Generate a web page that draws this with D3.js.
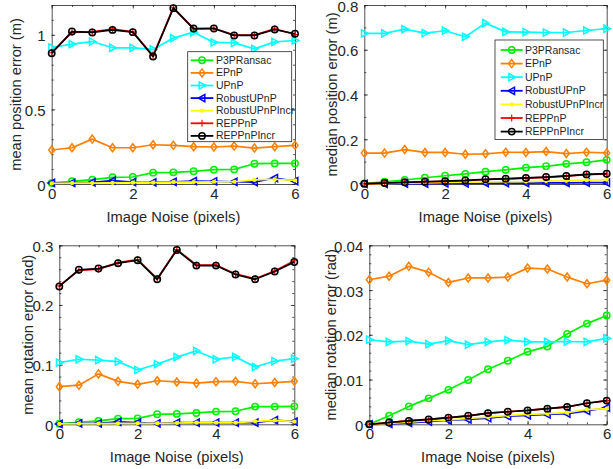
<!DOCTYPE html>
<html><head><meta charset="utf-8">
<script src="https://cdn.jsdelivr.net/npm/d3@7/dist/d3.min.js"></script>
<style>
body{margin:0;background:#fff}
text{font-family:"Liberation Sans",Arial,Helvetica,sans-serif;fill:#262626}
</style>
</head><body>
<svg id="c" width="613" height="469"></svg>
<script>
// ---------- DATA ----------
const noise = [0,0.5,1,1.5,2,2.5,3,3.5,4,4.5,5,5.5,6];
const methods = ["P3PRansac","EPnP","UPnP","RobustUPnP","RobustUPnPIncr","REPPnP","REPPnPIncr"];
const xTicks = [0,2,4,6];

// values in method order
const meanPosition = [
  [0.007,0.018,0.029,0.045,0.047,0.076,0.078,0.085,0.096,0.098,0.136,0.138,0.138],
  [0.228,0.243,0.301,0.243,0.243,0.263,0.259,0.250,0.248,0.254,0.241,0.250,0.259],
  [0.915,0.938,0.955,0.913,0.913,0.902,0.978,1.018,0.949,0.946,0.906,0.953,0.962],
  [0.007,0.008,0.011,0.022,0.013,0.011,0.015,0.020,0.018,0.015,0.013,0.040,0.020],
  [0.004,0.006,0.006,0.008,0.009,0.009,0.013,0.013,0.015,0.015,0.027,0.032,0.024],
  [0.880,1.018,1.020,1.038,1.020,0.860,1.182,1.040,1.044,0.998,0.998,1.040,1.002],
  [0.877,1.022,1.016,1.033,1.018,0.855,1.179,1.042,1.042,0.996,0.996,1.036,1.007]
];
const medianPosition = [
  [0.0015,0.010,0.018,0.028,0.037,0.045,0.055,0.063,0.073,0.079,0.090,0.097,0.108],
  [0.138,0.138,0.154,0.141,0.141,0.133,0.135,0.142,0.141,0.145,0.136,0.142,0.139],
  [0.673,0.673,0.692,0.674,0.685,0.658,0.719,0.680,0.679,0.677,0.677,0.686,0.694],
  [0.001,0.001,0.002,0.002,0.003,0.003,0.004,0.004,0.004,0.005,0.005,0.006,0.006],
  [0.001,0.002,0.004,0.005,0.007,0.008,0.009,0.010,0.011,0.013,0.014,0.017,0.019],
  [0.001,0.004,0.007,0.010,0.012,0.015,0.020,0.023,0.026,0.030,0.035,0.042,0.045],
  [0.0015,0.0045,0.0075,0.010,0.013,0.016,0.021,0.024,0.027,0.031,0.036,0.043,0.046]
];
const meanRotation = [
  [0.001,0.0034,0.0056,0.0095,0.010,0.0168,0.0174,0.019,0.0213,0.0218,0.0297,0.0297,0.030],
  [0.063,0.0655,0.0845,0.072,0.067,0.073,0.071,0.069,0.0715,0.072,0.068,0.070,0.072],
  [0.1035,0.109,0.1075,0.105,0.091,0.101,0.1125,0.123,0.109,0.113,0.096,0.106,0.110],
  [0.0006,0.0017,0.0017,0.004,0.0028,0.0017,0.0028,0.0028,0.0028,0.0028,0.0028,0.007,0.0045],
  [0.0006,0.0011,0.0011,0.0017,0.0017,0.0017,0.0022,0.0028,0.0028,0.0028,0.005,0.0067,0.0045],
  [0.232,0.258,0.260,0.271,0.276,0.244,0.293,0.267,0.267,0.252,0.244,0.257,0.274],
  [0.231,0.259,0.261,0.270,0.275,0.243,0.292,0.266,0.266,0.251,0.243,0.256,0.272]
];
const medianRotation = [
  [0,0.0019,0.004,0.0058,0.0077,0.0099,0.0123,0.0142,0.0162,0.0174,0.0202,0.0225,0.0243],
  [0.0323,0.0331,0.0353,0.034,0.0317,0.0327,0.0327,0.0329,0.0349,0.0347,0.0329,0.0314,0.0322],
  [0.0189,0.0184,0.0186,0.0179,0.0187,0.0178,0.0184,0.0188,0.0184,0.0184,0.0185,0.0184,0.0192],
  [0,0.0001,0.0003,0.0006,0.0009,0.0011,0.0014,0.0018,0.002,0.0022,0.0024,0.003,0.0037],
  [0,0.0002,0.0005,0.0008,0.001,0.0013,0.0016,0.002,0.0022,0.0024,0.0026,0.0033,0.0035],
  [0,0.0004,0.0008,0.0011,0.0015,0.0019,0.0025,0.0028,0.0031,0.0035,0.0039,0.0047,0.0053],
  [0,0.0004,0.00075,0.0011,0.0015,0.0019,0.0025,0.0028,0.0031,0.0035,0.0039,0.0047,0.0053]
];
const yTicksMeanPos = [0,0.5,1];
const yTicksMedPos = [0,0.2,0.4,0.6,0.8];
const yTicksMeanRot = [0,0.1,0.2,0.3];
const yTicksMedRot = [0,0.01,0.02,0.03,0.04];

// ---------- STYLE ----------
const colors = ["#00f000","#ff8000","#00ffff","#0000ff","#ffff00","#ff0000","#000000"];
const markers = ["o","d",">","<",".","+","o"];

const panels = [
  {data:meanPosition, ticks:yTicksMeanPos, ymax:1.2, minor:0.1, ylabel:"mean position error (m)",
   l:51.7,r:295,t:5,b:184, ylx:16, legend:{x:187.7,y:51.7,w:104,h:90,first:8.6,step:12.6,lx1:3,lx2:25.6,tx:28.3}},
  {data:medianPosition, ticks:yTicksMedPos, ymax:0.8, minor:0.1, ylabel:"median position error (m)",
   l:364.3,r:606.7,t:5,b:184, ylx:332, legend:{x:495,y:40,w:108.3,h:99.5,first:10,step:13.6,lx1:5.7,lx2:27.7,tx:30}},
  {data:meanRotation, ticks:yTicksMeanRot, ymax:0.3, minor:0.02, ylabel:"mean rotation error (rad)",
   l:59.3,r:294.3,t:245.3,b:424.3, ylx:27.5},
  {data:medianRotation, ticks:yTicksMedRot, ymax:0.04, minor:0.002, ylabel:"median rotation error (rad)",
   l:369.3,r:606.7,t:245.3,b:424.3, ylx:331}
];

const svg = d3.select("#c");
const fmt = d => d3.format("~g")(d);

function drawMarker(g, type, cx, cy, col){
  const sw = 1.5;
  if(type==="o"){
    g.append("circle").attr("cx",cx).attr("cy",cy).attr("r",3.2)
     .attr("fill","none").attr("stroke",col).attr("stroke-width",sw);
  } else if(type==="d"){
    g.append("path").attr("d",`M${cx},${cy-4}L${cx+3},${cy}L${cx},${cy+4}L${cx-3},${cy}Z`)
     .attr("fill","none").attr("stroke",col).attr("stroke-width",sw);
  } else if(type===">"){
    g.append("path").attr("d",`M${cx+3.8},${cy}L${cx-2.8},${cy-3.6}L${cx-2.8},${cy+3.6}Z`)
     .attr("fill","none").attr("stroke",col).attr("stroke-width",sw);
  } else if(type==="<"){
    g.append("path").attr("d",`M${cx-3.8},${cy}L${cx+2.8},${cy-3.6}L${cx+2.8},${cy+3.6}Z`)
     .attr("fill","none").attr("stroke",col).attr("stroke-width",sw);
  } else if(type==="."){
    g.append("circle").attr("cx",cx).attr("cy",cy).attr("r",2.1).attr("fill",col);
  } else if(type==="+"){
    g.append("path").attr("d",`M${cx-3.5},${cy}H${cx+3.5}M${cx},${cy-3.5}V${cy+3.5}`)
     .attr("stroke",col).attr("stroke-width",1.1).attr("fill","none");
  }
}

panels.forEach(p=>{
  const x = d3.scaleLinear().domain([0,6]).range([p.l,p.r]);
  const y = d3.scaleLinear().domain([0,p.ymax]).range([p.b,p.t]);
  const g = svg.append("g");
  const axCol = "#262626";
  const minorX = d3.range(0,6.0001,0.5);
  const minorY = d3.range(0,p.ymax+1e-9,p.minor);

  const styleAxis = sel=>{
    sel.selectAll("path.domain").attr("stroke",axCol).attr("stroke-width",0.8);
    sel.selectAll("line").attr("stroke",axCol).attr("stroke-width",0.8);
    sel.selectAll("text").attr("fill",axCol).style("font-size","15px")
      .style("font-family",'"Liberation Sans",Arial,Helvetica,sans-serif');
  };
  // minor ticks
  [["bottom",p.b],["top",p.t]].forEach(([side,pos])=>{
    const a = (side==="bottom"?d3.axisBottom(x):d3.axisTop(x)).tickValues(minorX).tickFormat("").tickSizeInner(-2).tickSizeOuter(0);
    g.append("g").attr("transform",`translate(0,${pos})`).call(a).call(styleAxis).select("path.domain").remove();
  });
  [["left",p.l],["right",p.r]].forEach(([side,pos])=>{
    const a = (side==="left"?d3.axisLeft(y):d3.axisRight(y)).tickValues(minorY).tickFormat("").tickSizeInner(-2).tickSizeOuter(0);
    g.append("g").attr("transform",`translate(${pos},0)`).call(a).call(styleAxis).select("path.domain").remove();
  });
  // major axes
  g.append("g").attr("transform",`translate(0,${p.b})`)
    .call(d3.axisBottom(x).tickValues(xTicks).tickFormat(fmt).tickSizeInner(-3.5).tickSizeOuter(0).tickPadding(4)).call(styleAxis);
  g.append("g").attr("transform",`translate(0,${p.t})`)
    .call(d3.axisTop(x).tickValues(xTicks).tickFormat("").tickSizeInner(-3.5).tickSizeOuter(0)).call(styleAxis);
  g.append("g").attr("transform",`translate(${p.l},0)`)
    .call(d3.axisLeft(y).tickValues(p.ticks).tickFormat(fmt).tickSizeInner(-3.5).tickSizeOuter(0).tickPadding(6)).call(styleAxis)
    .selectAll("text").attr("dy","0.4em");
  g.append("g").attr("transform",`translate(${p.r},0)`)
    .call(d3.axisRight(y).tickValues(p.ticks).tickFormat("").tickSizeInner(-3.5).tickSizeOuter(0)).call(styleAxis);

  // axis labels
  g.append("text").attr("x",(p.l+p.r)/2).attr("y",p.b+38).attr("text-anchor","middle")
    .style("font-size","14.7px").text("Image Noise (pixels)");
  g.append("text").attr("transform",`translate(${p.ylx+5},${(p.t+p.b)/2}) rotate(-90)`)
    .attr("text-anchor","middle").style("font-size","14.7px").text(p.ylabel);

  // series
  const plot = g.append("g");
  const line = d3.line().x((d,i)=>x(noise[i])).y(d=>y(d));
  p.data.forEach((vals,k)=>{
    plot.append("path").attr("d",line(vals)).attr("fill","none")
      .attr("stroke",colors[k]).attr("stroke-width",1.7).attr("stroke-linejoin","round");
    vals.forEach((v,i)=>drawMarker(plot,markers[k],x(noise[i]),y(v),colors[k]));
  });

  // legend
  if(p.legend){
    const L = p.legend;
    const lg = g.append("g").attr("transform",`translate(${L.x},${L.y})`);
    lg.append("rect").attr("width",L.w).attr("height",L.h).attr("fill","#fff")
      .attr("stroke","#262626").attr("stroke-width",0.8);
    methods.forEach((m,k)=>{
      const yy = L.first + k*L.step;
      lg.append("line").attr("x1",L.lx1).attr("x2",L.lx2).attr("y1",yy).attr("y2",yy)
        .attr("stroke",colors[k]).attr("stroke-width",1.8);
      drawMarker(lg,markers[k],(L.lx1+L.lx2)/2,yy,colors[k]);
      lg.append("text").attr("x",L.tx).attr("y",yy+3.6).style("font-size","10.5px").text(m);
    });
  }
});
</script>
</body></html>
